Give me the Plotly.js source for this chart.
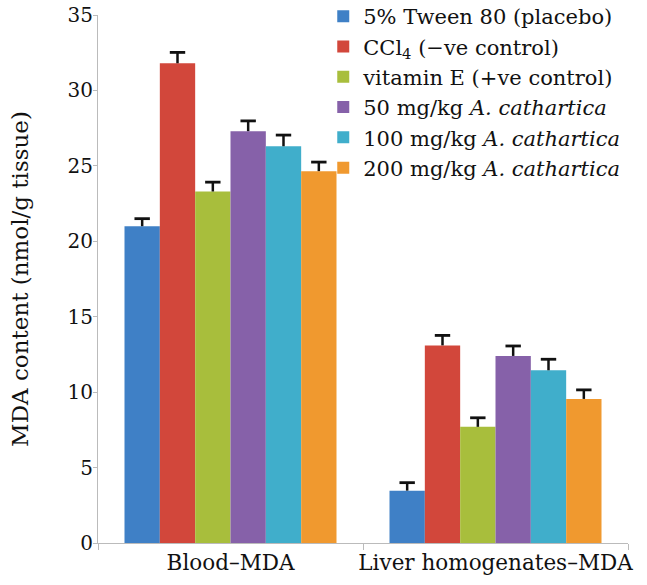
<!DOCTYPE html>
<html>
<head>
<meta charset="utf-8">
<script src="https://cdn.plot.ly/plotly-3.0.1.min.js"></script>
<style>html,body{margin:0;padding:0;background:#fff;}#chart{width:647px;height:585px;}</style>
</head>
<body>
<div id="chart"></div>
<script>
const categories = ["Blood–MDA", "Liver homogenates–MDA"];
const seriesNames = [
  "5% Tween 80 (placebo)",
  "CCl<sub>4</sub> (−ve control)",
  "vitamin E (+ve control)",
  "50 mg/kg <i>A. cathartica</i>",
  "100 mg/kg <i>A. cathartica</i>",
  "200 mg/kg <i>A. cathartica</i>"
];
const placebo = [21.0, 3.47];
const ccl4 = [31.8, 13.1];
const vitaminE = [23.3, 7.7];
const dose50 = [27.3, 12.4];
const dose100 = [26.3, 11.45];
const dose200 = [24.65, 9.55];
const placeboErr = [0.5, 0.53];
const ccl4Err = [0.72, 0.66];
const vitaminEErr = [0.62, 0.6];
const dose50Err = [0.68, 0.66];
const dose100Err = [0.74, 0.73];
const dose200Err = [0.6, 0.6];

const values = [placebo, ccl4, vitaminE, dose50, dose100, dose200];
const errors = [placeboErr, ccl4Err, vitaminEErr, dose50Err, dose100Err, dose200Err];
const colors = ["#3F80C6", "#D2473B", "#A8BE3C", "#8661A9", "#40AECB", "#F0992F"];

const serif = "'DejaVu Serif', 'Liberation Serif', serif";

const traces = values.map((v, i) => ({
  type: "bar",
  x: categories,
  y: v,
  name: seriesNames[i],
  offsetgroup: "g" + i,
  marker: {color: colors[i], line: {width: 0}},
  error_y: {
    type: "data",
    symmetric: false,
    array: errors[i],
    arrayminus: errors[i].map(() => 0),
    color: "#111",
    thickness: 2.5,
    width: 0
  }
}));

// caps of the error bars ("T" shape)
values.forEach((v, i) => {
  traces.push({
    type: "scatter",
    mode: "markers",
    x: categories,
    y: v.map((val, j) => val + errors[i][j]),
    offsetgroup: "g" + i,
    showlegend: false,
    hoverinfo: "skip",
    marker: {symbol: "line-ew", size: 11, color: "#111", line: {width: 2.8, color: "#111"}}
  });
});

const layout = {
  width: 647,
  height: 585,
  margin: {l: 98, r: 19, t: 15, b: 42, autoexpand: false},
  paper_bgcolor: "#fff",
  plot_bgcolor: "#fff",
  font: {family: serif, size: 20, color: "#111"},
  barmode: "group",
  bargap: 0.2,
  bargroupgap: 0,
  scattermode: "group",
  scattergap: 0.2,
  showlegend: true,
  legend: {
    x: 0.425, xanchor: "left",
    y: 1.036, yanchor: "top",
    font: {family: serif, size: 21, color: "#111"},
    bgcolor: "rgba(0,0,0,0)",
    tracegroupgap: 0,
    itemwidth: 30
  },
  xaxis: {
    showline: true, linecolor: "#BBBBBB", linewidth: 1,
    ticks: "outside", tickson: "boundaries", ticklen: 6, tickcolor: "#BBBBBB",
    tickangle: 0, automargin: false,
    tickfont: {family: serif, size: 21.5, color: "#111"},
    showgrid: false, zeroline: false
  },
  yaxis: {
    range: [0, 35],
    tickvals: [0, 5, 10, 15, 20, 25, 30, 35],
    showline: true, linecolor: "#BBBBBB", linewidth: 1,
    ticks: "outside", ticklen: 4, tickcolor: "#BBBBBB",
    ticklabelstandoff: -4,
    automargin: false,
    tickfont: {family: serif, size: 20, color: "#111"},
    showgrid: false, zeroline: false,
    title: {text: "MDA content (nmol/g tissue)", font: {family: serif, size: 23, color: "#111"}, standoff: 32}
  }
};

Plotly.newPlot("chart", traces, layout, {displayModeBar: false, staticPlot: true});
</script>
</body>
</html>
